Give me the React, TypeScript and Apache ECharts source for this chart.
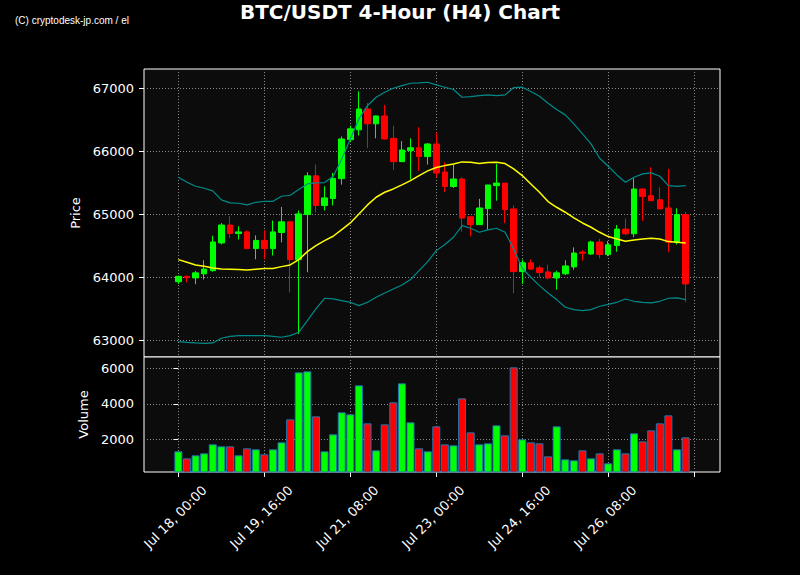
import { useEffect, useRef } from "react";
import * as echarts from "echarts";

// ---- Data (4-hour candles starting Jul 18, 00:00) ----
const opens = [
  63930, 64015, 63990, 64055, 64105, 64545, 64830, 64695, 64720, 64455,
  64585, 64455, 64710, 64880, 64280, 64995, 65610, 65140, 65250, 65565,
  66185, 66340, 66670, 66435, 66560, 66205, 65835, 66010, 66055, 65915,
  66115, 65670, 65440, 65560, 64960, 64835, 65090, 65455, 65495, 65085,
  64090, 64230, 64150, 64085, 63990, 64055, 64165, 64400, 64370, 64560,
  64360, 64505, 64765, 64690, 65400, 65295, 65230, 65100, 64555, 64995,
];
const closes = [
  64015, 63995, 64070, 64130, 64560, 64830, 64695, 64720, 64455, 64585,
  64455, 64720, 64880, 64280, 65005, 65610, 65140, 65260, 65570, 66195,
  66355, 66670, 66435, 66560, 66195, 65835, 66020, 66055, 65915, 66115,
  65655, 65440, 65560, 64940, 64835, 65100, 65465, 65495, 65075, 64090,
  64230, 64130, 64075, 63990, 64070, 64180, 64385, 64380, 64560, 64360,
  64515, 64765, 64690, 65400, 65280, 65215, 65085, 64555, 64995, 63895,
];
const lows = [
  63895, 63920, 63890, 63965, 64090, 64520, 64620, 64600, 64445, 64285,
  64285, 64345, 64555, 63760, 63100, 64080, 65030, 65060, 65140, 65470,
  66145, 66250, 66050, 66205, 66185, 65705, 65835, 65550, 65685, 65790,
  65585, 65350, 65415, 64725, 64650, 64835, 64755, 65215, 64860, 63745,
  63895, 64115, 64000, 63965, 63805, 64035, 64120, 64265, 64355, 64300,
  64335, 64405, 64665, 64635, 64895, 65215, 65085, 64405, 64520, 63605,
];
const highs = [
  64025, 64025, 64100, 64270, 64660, 64860, 64970, 64810, 64745, 64665,
  64745, 64900, 65115, 64880, 65060, 65665, 65790, 65445, 65655, 66235,
  66405, 66950, 66765, 66565, 66735, 66405, 66160, 66205, 66380, 66130,
  66300, 65825, 65790, 65585, 64960, 65245, 65465, 65800, 65495, 65140,
  64280, 64285, 64185, 64200, 64105, 64270, 64475, 64430, 64580, 64610,
  64575, 64830, 64935, 65570, 65415, 65745, 65430, 65720, 65095, 65040,
];
const volumes = [
  1324, 930, 1099, 1211, 1718, 1606, 1606, 1099, 1493, 1437,
  1155, 1437, 1831, 3127, 5775, 5831, 3296, 1324, 2282, 3521,
  3409, 5042, 2901, 1380, 2845, 4085, 5155, 2958, 1493, 1324,
  2732, 1718, 1662, 4310, 2394, 1718, 1775, 2789, 2225, 6056,
  2000, 1831, 1775, 1042, 2732, 873, 817, 1380, 930, 1211,
  648, 1437, 1211, 2338, 1887, 2507, 2901, 3352, 1437, 2113,
];
const bbUpper = [
  65587, 65508, 65444, 65413, 65370, 65228, 65180, 65175, 65148, 65190,
  65206, 65206, 65286, 65302, 65392, 65481, 65497, 65503, 65600, 65878,
  66196, 66513, 66725, 66857, 66937, 67000, 67042, 67079, 67085, 67095,
  67053, 67016, 66979, 66857, 66868, 66884, 66894, 66884, 66894, 67011,
  67016, 66947, 66873, 66762, 66661, 66577, 66434, 66275, 66116, 65889,
  65762, 65624, 65508, 65587, 65640, 65656, 65603, 65455, 65444, 65455,
];
const bbMiddle = [
  64280, 64238, 64196, 64175, 64148, 64132, 64127, 64122, 64116, 64127,
  64138, 64138, 64169, 64196, 64280, 64407, 64503, 64582, 64651, 64757,
  64862, 65005, 65148, 65270, 65349, 65402, 65466, 65534, 65614, 65688,
  65741, 65772, 65799, 65831, 65825, 65804, 65820, 65825, 65804, 65720,
  65614, 65481, 65349, 65201, 65111, 65032, 64942, 64862, 64794, 64714,
  64646, 64608, 64571, 64593, 64608, 64619, 64608, 64566, 64556, 64545,
];
const bbLower = [
  62979, 62968, 62958, 62952, 62958, 63032, 63063, 63074, 63074, 63074,
  63074, 63063, 63048, 63074, 63127, 63312, 63497, 63667, 63656, 63630,
  63603, 63550, 63603, 63683, 63751, 63815, 63878, 63963, 64106, 64249,
  64423, 64519, 64635, 64820, 64778, 64714, 64751, 64778, 64714, 64450,
  64143, 64000, 63868, 63751, 63646, 63524, 63487, 63471, 63487, 63540,
  63571, 63603, 63656, 63619, 63603, 63593, 63619, 63667, 63672, 63646,
];
const tickLabels = [
  "Jul 18, 00:00",
  "Jul 19, 16:00",
  "Jul 21, 08:00",
  "Jul 23, 00:00",
  "Jul 24, 16:00",
  "Jul 26, 08:00",
];
const priceTicks = [63000, 64000, 65000, 66000, 67000];
const volumeTicks = [2000, 4000, 6000];

// ---- Layout constants ----
const PAD = 4;
const TICK_STEP = 10;
const LABEL_SHIFT = 3.02;
const UP = "#00ff00";
const DOWN = "#ff0000";
const FONT = "DejaVu Sans";

export default function App() {
  const ref = useRef<HTMLDivElement>(null);

  useEffect(() => {
    if (!ref.current) return;
    const chart = echarts.init(ref.current, null, { renderer: "svg" });
    const N = opens.length;
    const categories = Array.from({ length: N + PAD * 2 }, (_, i) => String(i - PAD));
    const padArr = (arr: any[]) => [
      ...Array(PAD).fill("-"),
      ...arr,
      ...Array(PAD).fill("-"),
    ];
    const candleData = padArr(
      opens.map((o, i) => [o, closes[i], lows[i], highs[i]])
    );
    const volData = padArr(
      volumes.map((v, i) => ({
        value: v,
        itemStyle: { color: closes[i] >= opens[i] ? UP : DOWN },
      }))
    );
    const tickInterval = (index: number) =>
      index >= PAD && (index - PAD) % TICK_STEP === 0;
    const gridLine = {
      show: true,
      lineStyle: { color: "#8c8c8c", type: [1, 2], width: 1 },
    };
    const tickStyle = { color: "#ffffff", width: 1 };
    const plain = (v: number) => String(v);

    const option: any = {
      animation: false,
      backgroundColor: "#000000",
      title: [
        {
          text: "BTC/USDT 4-Hour (H4) Chart",
          left: "center",
          top: 2,
          padding: 0,
          textStyle: {
            color: "#ffffff",
            fontFamily: FONT,
            fontWeight: "bold",
            fontSize: 20,
          },
        },
        {
          text: "(C) cryptodesk-jp.com / el",
          left: 15,
          top: 15,
          padding: 0,
          textStyle: {
            color: "#ffffff",
            fontFamily: "Liberation Sans",
            fontWeight: "normal",
            fontSize: 10,
          },
        },
      ],
      grid: [
        {
          left: 144,
          top: 69,
          width: 576,
          height: 288,
          show: true,
          borderColor: "#ffffff",
          borderWidth: 1,
          backgroundColor: "#0c0c0c",
        },
        {
          left: 144,
          top: 357,
          width: 576,
          height: 115,
          show: true,
          borderColor: "#ffffff",
          borderWidth: 1,
          backgroundColor: "#0c0c0c",
        },
      ],
      xAxis: [
        {
          type: "category",
          gridIndex: 0,
          data: categories,
          boundaryGap: false,
          axisLine: { show: false },
          axisTick: { show: false },
          axisLabel: { show: false },
          splitLine: { ...gridLine, interval: tickInterval },
        },
        {
          type: "category",
          gridIndex: 1,
          position: "bottom",
          data: categories,
          boundaryGap: false,
          axisLine: { show: false },
          axisTick: {
            show: true,
            interval: tickInterval,
            length: 5,
            lineStyle: tickStyle,
          },
          axisLabel: { show: false },
          splitLine: { ...gridLine, interval: tickInterval },
        },
        {
          type: "value",
          gridIndex: 1,
          position: "bottom",
          min: -PAD,
          max: N + PAD - 1,
          axisLine: { show: false },
          axisTick: { show: false },
          splitLine: { show: false },
          axisLabel: {
            show: true,
            customValues: tickLabels.map((_, k) => k * TICK_STEP + LABEL_SHIFT),
            formatter: (v: number) =>
              tickLabels[Math.round((v - LABEL_SHIFT) / TICK_STEP)] ?? "",
            rotate: 45,
            margin: 16,
            color: "#ffffff",
            fontSize: 13,
            fontFamily: FONT,
          },
        },
      ],
      yAxis: [
        {
          type: "value",
          gridIndex: 0,
          min: 62735,
          max: 67305,
          name: "Price",
          nameLocation: "middle",
          nameGap: 55,
          nameTextStyle: { color: "#ffffff", fontSize: 13, fontFamily: FONT },
          axisLine: { show: false },
          axisTick: {
            show: true,
            length: 5,
            customValues: priceTicks,
            lineStyle: tickStyle,
          },
          axisLabel: {
            customValues: priceTicks,
            formatter: plain,
            color: "#ffffff",
            fontSize: 13,
            fontFamily: FONT,
            margin: 10,
          },
          splitLine: gridLine,
        },
        {
          type: "value",
          gridIndex: 1,
          min: 160,
          max: 6640,
          name: "Volume",
          nameLocation: "middle",
          nameGap: 46,
          nameTextStyle: { color: "#ffffff", fontSize: 13, fontFamily: FONT },
          axisLine: { show: false },
          axisTick: {
            show: true,
            length: 5,
            customValues: volumeTicks,
            lineStyle: tickStyle,
          },
          axisLabel: {
            customValues: volumeTicks,
            formatter: plain,
            color: "#ffffff",
            fontSize: 13,
            fontFamily: FONT,
            margin: 10,
          },
          splitLine: gridLine,
        },
      ],
      series: [
        {
          type: "candlestick",
          name: "Price",
          xAxisIndex: 0,
          yAxisIndex: 0,
          data: candleData,
          barWidth: 6,
          itemStyle: {
            color: UP,
            color0: DOWN,
            borderColor: UP,
            borderColor0: DOWN,
            borderWidth: 1,
          },
        },
        {
          type: "line",
          name: "Upper",
          xAxisIndex: 0,
          yAxisIndex: 0,
          data: padArr(bbUpper),
          symbol: "none",
          lineStyle: { color: "#008b8b", width: 1.2 },
          z: 3,
        },
        {
          type: "line",
          name: "Middle",
          xAxisIndex: 0,
          yAxisIndex: 0,
          data: padArr(bbMiddle),
          symbol: "none",
          lineStyle: { color: "#ffff00", width: 1.5 },
          z: 3,
        },
        {
          type: "line",
          name: "Lower",
          xAxisIndex: 0,
          yAxisIndex: 0,
          data: padArr(bbLower),
          symbol: "none",
          lineStyle: { color: "#008b8b", width: 1.2 },
          z: 3,
        },
        {
          type: "bar",
          name: "Volume",
          xAxisIndex: 1,
          yAxisIndex: 1,
          data: volData,
          barWidth: 8,
          itemStyle: { borderColor: "#1f77b4", borderWidth: 1 },
        },
      ],
    };

    chart.setOption(option);
    return () => chart.dispose();
  }, []);

  return (
    <div
      ref={ref}
      style={{ position: "fixed", left: 0, top: 0, width: 800, height: 575 }}
    />
  );
}
